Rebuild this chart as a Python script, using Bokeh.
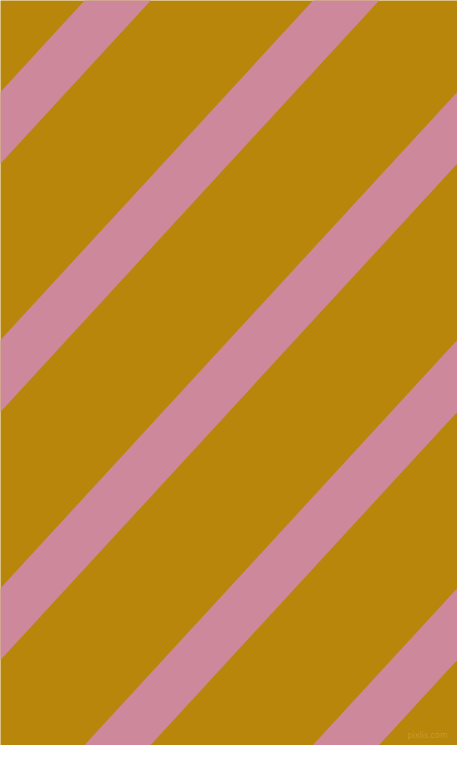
from bokeh.plotting import figure
from bokeh.models import Range1d
from bokeh.embed import file_html
from bokeh.resources import INLINE
from bokeh.core.properties import value
import math

# Pattern data (reference pixel space, y measured downward from the top)
stripe_offsets = [-160.2, 93.3, 346.8, 600.3, 853.8, 1107.3]   # upper-edge y at x=0
stripe_thickness = 73.4                                         # vertical thickness
stripe_angle_deg = 47.0
background_color = "#b8860b"
stripe_color = "#cd889b"
watermark = ["pixlis.com"]
watermark_x = [442]
watermark_y = [751]

slope = math.tan(math.radians(stripe_angle_deg))
x_lo, x_hi = -20.0, 500.0

xs, ys = [], []
for c in stripe_offsets:
    xs.append([x_lo, x_hi, x_hi, x_lo])
    ys.append([c - slope * x_lo, c - slope * x_hi,
               c + stripe_thickness - slope * x_hi, c + stripe_thickness - slope * x_lo])

p = figure(width=457, height=745, output_backend="svg", toolbar_location=None,
           x_range=Range1d(0, 473), y_range=Range1d(761, 0),
           x_axis_location=None, y_axis_location=None, min_border=0,
           background_fill_color=background_color, border_fill_color=background_color,
           outline_line_color=None)
p.xgrid.visible = False
p.ygrid.visible = False

p.patches(xs=xs, ys=ys, fill_color=stripe_color, line_color=None)

p.text(x=watermark_x, y=watermark_y, text=watermark, text_font=value("DejaVu Sans"),
       text_font_size="8px", text_color="#c89a2c", text_align="center",
       text_baseline="middle")

open("out.html", "w").write(file_html(p, INLINE))
